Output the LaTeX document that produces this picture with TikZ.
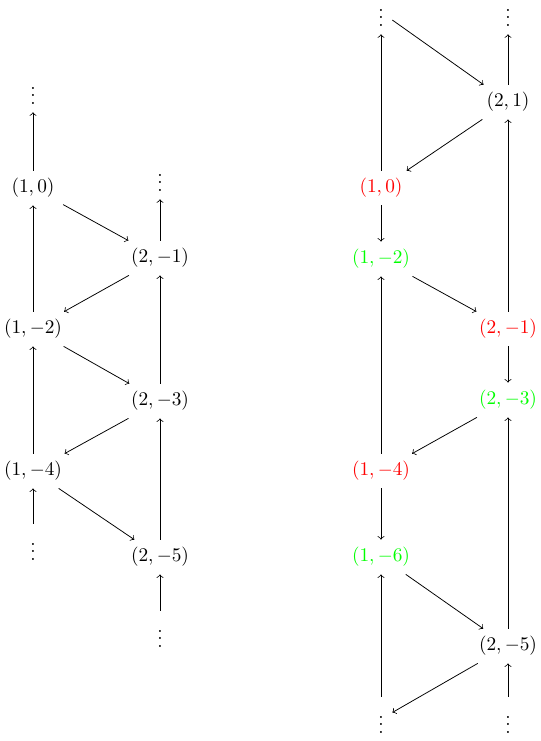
\documentclass[tikz,border=0pt]{standalone}
\usepackage{amsmath}
\usepackage{tkz-graph}
\SetUpEdge[lw=0.4pt, color=black]

\begin{document}
\begin{tikzpicture}[x=0.518pt, y=-0.518pt,
    VertexStyle/.style={shape=rectangle, inner xsep=4.5pt, inner ysep=4pt},
    EdgeStyle/.style={->, line width=0.4pt, black}]

                            \useasboundingbox (0,0) rectangle (541,741);

                            % left graph
                            \Vertex[x=33, y=90, L={$\vdots$}]{lt}
                            \Vertex[x=33, y=188, L={$(1,0)$}]{l10}
                            \Vertex[x=160, y=177, L={$\vdots$}]{lt2}
                            \Vertex[x=160, y=258, L={$(2,-1)$}]{l2m1}
                            \Vertex[x=33, y=329, L={$(1,-2)$}]{l1m2}
                            \Vertex[x=160, y=401, L={$(2,-3)$}]{l2m3}
                            \Vertex[x=33, y=471, L={$(1,-4)$}]{l1m4}
                            \Vertex[x=33, y=546, L={$\vdots$}]{lb1}
                            \Vertex[x=160, y=557, L={$(2,-5)$}]{l2m5}
                            \Vertex[x=160, y=633, L={$\vdots$}]{lb2}

                            \Edge(l10)(lt)
                            \Edge(l10)(l2m1)
                            \Edge(l2m1)(lt2)
                            \Edge(l2m1)(l1m2)
                            \Edge(l1m2)(l10)
                            \Edge(l1m2)(l2m3)
                            \Edge(l2m3)(l2m1)
                            \Edge(l2m3)(l1m4)
                            \Edge(l1m4)(l1m2)
                            \Edge(l1m4)(l2m5)
                            \Edge(lb1)(l1m4)
                            \Edge(l2m5)(l2m3)
                            \Edge(lb2)(l2m5)

                            % right graph
                            \Vertex[x=381, y=12, L={$\vdots$}]{rt1}
                            \Vertex[x=508, y=12, L={$\vdots$}]{rt2}
                            \Vertex[x=508, y=102, L={$(2,1)$}]{r21}
                            \Vertex[x=381, y=188, L={\textcolor{red}{$(1,0)$}}]{r10}
                            \Vertex[x=381, y=259, L={\textcolor{green}{$(1,-2)$}}]{r1m2}
                            \Vertex[x=508, y=329, L={\textcolor{red}{$(2,-1)$}}]{r2m1}
                            \Vertex[x=508, y=400, L={\textcolor{green}{$(2,-3)$}}]{r2m3}
                            \Vertex[x=381, y=471, L={\textcolor{red}{$(1,-4)$}}]{r1m4}
                            \Vertex[x=381, y=557, L={\textcolor{green}{$(1,-6)$}}]{r1m6}
                            \Vertex[x=508, y=646, L={$(2,-5)$}]{r2m5}
                            \Vertex[x=381, y=719, L={$\vdots$}]{rb1}
                            \Vertex[x=508, y=719, L={$\vdots$}]{rb2}

                            \Edge(r10)(rt1)
                            \Edge(rt1)(r21)
                            \Edge(r21)(rt2)
                            \Edge(r21)(r10)
                            \Edge(r10)(r1m2)
                            \Edge(r1m2)(r2m1)
                            \Edge(r2m1)(r21)
                            \Edge(r2m1)(r2m3)
                            \Edge(r2m3)(r1m4)
                            \Edge(r1m4)(r1m2)
                            \Edge(r1m4)(r1m6)
                            \Edge(r1m6)(r2m5)
                            \Edge(r2m5)(r2m3)
                            \Edge(rb1)(r1m6)
                            \Edge(r2m5)(rb1)
                            \Edge(rb2)(r2m5)
                        \end{tikzpicture}
\end{document}
